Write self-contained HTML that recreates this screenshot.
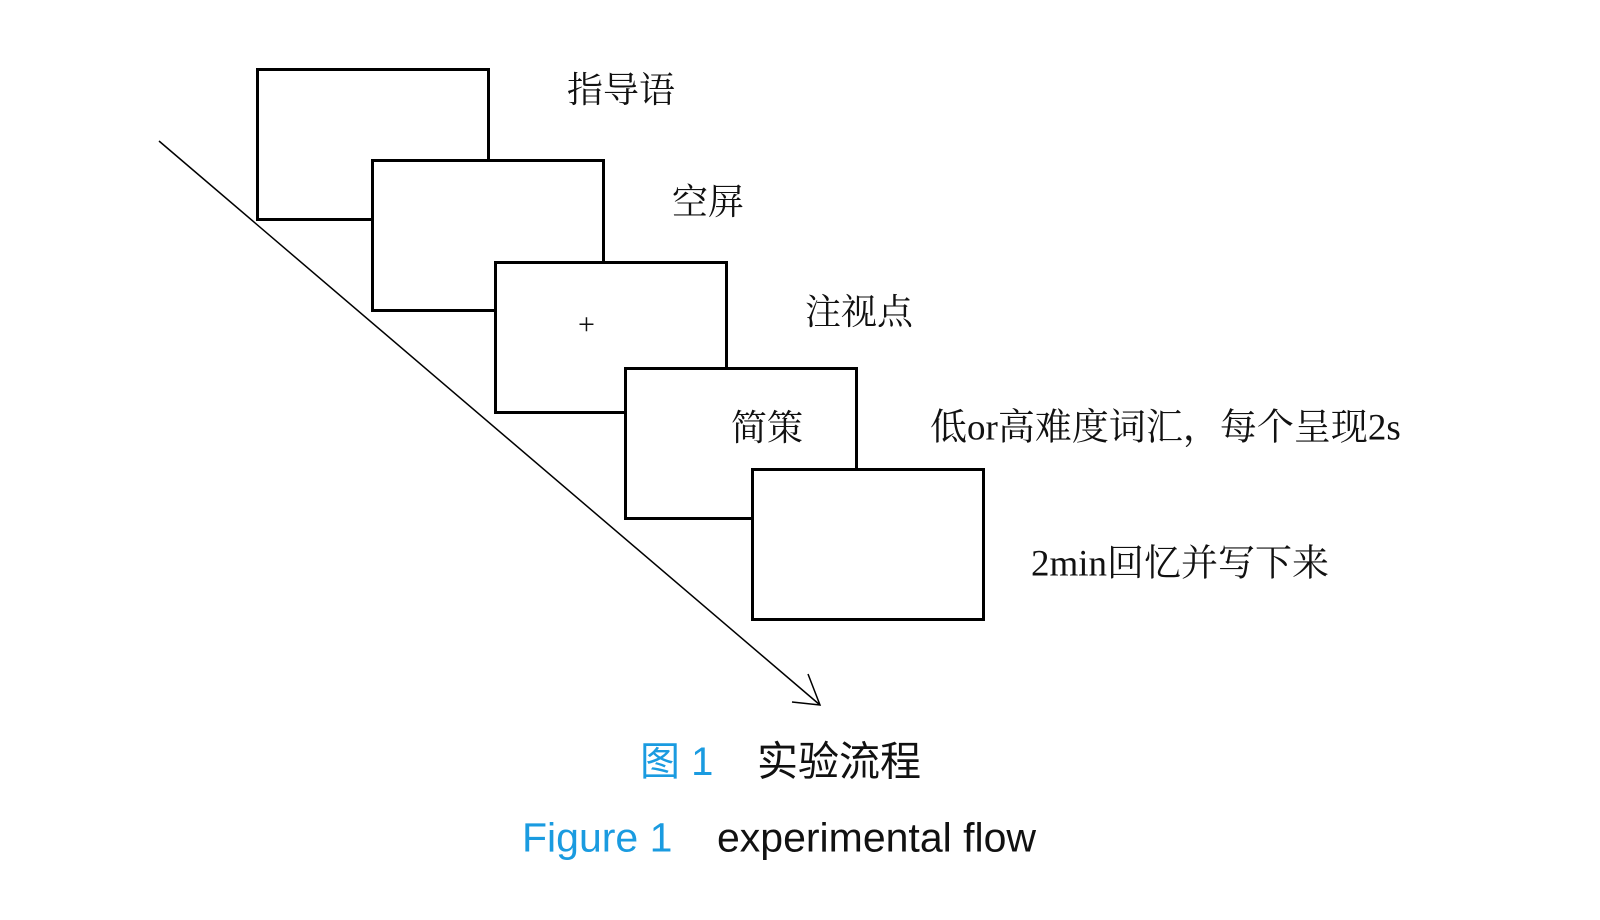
<!DOCTYPE html>
<html><head><meta charset="utf-8"><style>
html,body{margin:0;padding:0;background:#fff;}
body{width:1600px;height:920px;position:relative;overflow:hidden;}
.b{position:absolute;width:228px;height:147px;border:3px solid #000;background:#fff;box-sizing:content-box;}
.t{position:absolute;font-family:"Liberation Serif","Noto Serif CJK SC",serif;font-size:36px;line-height:1;color:#111;white-space:nowrap;transform:translateY(-50%);}
.c{position:absolute;font-family:"Liberation Sans","Noto Sans CJK SC",sans-serif;line-height:1;white-space:nowrap;transform:translateY(-50%);}
</style></head><body>
<svg width="1600" height="920" style="position:absolute;left:0;top:0">
<line x1="159" y1="141" x2="820" y2="705" stroke="#000" stroke-width="1.5"/>
<polyline points="808,674 820,705 792,702" fill="none" stroke="#000" stroke-width="1.5"/>
</svg>
<div class="b" style="left:256px;top:68px"></div>
<div class="b" style="left:371px;top:159px"></div>
<div class="b" style="left:494px;top:261px"></div>
<div class="b" style="left:624px;top:367px"></div>
<div class="b" style="left:751px;top:468px"></div>
<div class="t" style="left:567px;top:90px">指导语</div>
<div class="t" style="left:672px;top:202px">空屏</div>
<div class="t" style="left:805px;top:312px">注视点</div>
<div class="t" style="left:578px;top:325px;font-size:30px">+</div>
<div class="t" style="left:731px;top:428px">简策</div>
<div class="t" style="left:930px;top:428px;font-size:37px">低or高难度词汇，每个呈现2s</div>
<div class="t" style="left:1031px;top:564px;font-size:37px">2min回忆并写下来</div>
<div class="c" style="left:640px;top:762px;font-size:40px;color:#1a9be0">图 1</div>
<div class="c" style="left:757px;top:762px;font-size:41px;color:#111">实验流程</div>
<div class="c" style="left:522px;top:838px;font-size:41px;color:#1a9be0">Figure 1</div>
<div class="c" style="left:717px;top:838px;font-size:41px;color:#111">experimental flow</div>
</body></html>
